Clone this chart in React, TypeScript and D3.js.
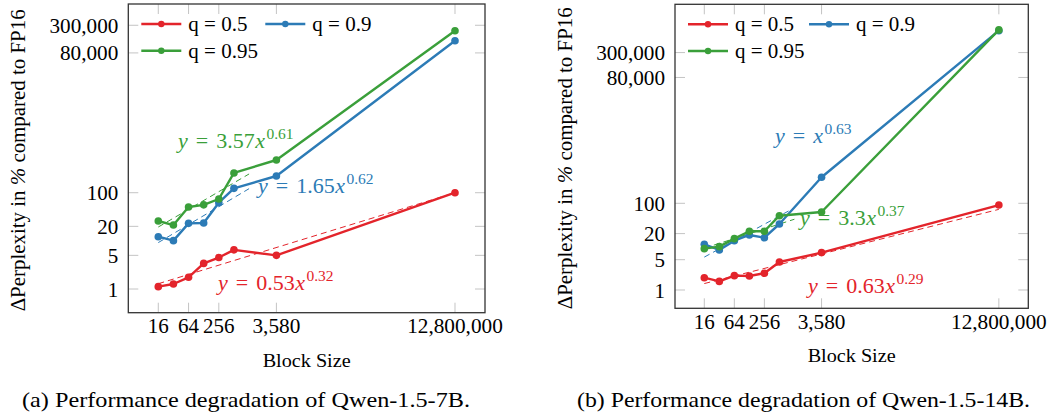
import React from "react";
import * as d3 from "d3";

// ---------- data ----------
const blockSizes = [16, 32, 64, 128, 256, 512, 3580, 12800000];
const xTickValues = [16, 64, 256, 3580, 12800000];
const xTickLabels = ["16", "64", "256", "3,580", "12,800,000"];
const yTickValues = [1, 5, 20, 100, 80000, 300000];
const yTickLabels = ["1", "5", "20", "100", "80,000", "300,000"];
const seriesNames = ["q = 0.5", "q = 0.9", "q = 0.95"];

// Qwen-1.5-7B
const q05A = [1.12, 1.27, 1.75, 3.4, 4.5, 6.5, 5.0, 100];
const q09A = [12.2, 10.1, 23.1, 23.5, 62, 123, 222, 143500];
const q095A = [25.8, 21.3, 50.5, 56, 74, 257, 478, 231000];
// fits: coefficient, exponent, x-range end, label anchor (x, y in data units)
const fitCoefA = [0.53, 1.65, 3.57];
const fitExpA = [0.32, 0.62, 0.61];
const fitEndA = [12800000, 1024, 1024];
const fitLabelXA = [247, 1542, 39.5];
const fitLabelYA = [0.95, 98.6, 848];

// Qwen-1.5-14B
const q05B = [1.92, 1.58, 2.14, 2.1, 2.43, 4.43, 7.26, 91];
const q09B = [11.3, 8.4, 13.7, 18.6, 16.1, 33.3, 398, 960000];
const q095B = [9.0, 10, 15.3, 22.6, 22.6, 51.8, 63, 1000000];
const fitCoefB = [0.63, 1, 3.3];
const fitExpB = [0.29, 0.63, 0.37];
const fitEndB = [12800000, 1024, 1024];
const fitLabelXB = [1915, 418, 1325];
const fitLabelYB = [0.853, 2460, 31.6];

const COLORS = ["#e3242b", "#2c7bb6", "#3a9f3a"];
const SERIF = "Liberation Serif, DejaVu Serif, serif";

// width of a numeric tick label in the reference's digit metrics
const numWidth = (s: string) =>
  s.split("").reduce((w, c) => w + (c === "," ? 5.8 : 10.5), 0);

type PanelProps = {
  left: number; right: number; top: number; bottom: number;
  xDomain: [number, number]; yDomain: [number, number];
  series: number[][];
  fitCoef: number[]; fitExp: number[]; fitEnd: number[];
  fitLabelX: number[]; fitLabelY: number[];
  legendCol2: number;
  yTitleX: number;
  caption: string;
  captionX: number;
  captionLen: number;
};

function FitLabel({ x, y, coef, exp, color }: any) {
  const showCoef = coef !== 1;
  return (
    <text x={x} y={y} style={{ fontFamily: SERIF }} fontSize={22} fill={color}>
      <tspan fontStyle="italic">y</tspan>
      <tspan dx={8}>=</tspan>
      {showCoef ? <tspan dx={8}>{String(coef)}</tspan> : null}
      <tspan dx={showCoef ? 0.5 : 8} fontStyle="italic">x</tspan>
      <tspan dx={1.5} dy={-9} fontSize={15.5}>{String(exp)}</tspan>
    </text>
  );
}

function Panel(p: PanelProps) {
  const x = d3.scaleLog().domain(p.xDomain).range([p.left, p.right]);
  const y = d3.scaleLog().domain(p.yDomain).range([p.bottom, p.top]);
  const line = d3
    .line<[number, number]>()
    .x((d) => x(d[0]))
    .y((d) => y(d[1]));
  const tickLen = 10;
  const tickColor = "#c4c4c4";
  const cx = (p.left + p.right) / 2;
  const cy = (p.top + p.bottom) / 2;
  const legendRows = [
    { i: 0, lx: p.left + 13, ty: p.top + 20 },
    { i: 1, lx: p.left + p.legendCol2, ty: p.top + 20 },
    { i: 2, lx: p.left + 13, ty: p.top + 46.7 },
  ];
  const tf = { fontFamily: SERIF };
  return (
    <g>
      {/* ticks */}
      {xTickValues.map((v, i) => (
        <g key={"xt" + i}>
          <line x1={x(v)} x2={x(v)} y1={p.bottom} y2={p.bottom - tickLen} stroke={tickColor} strokeWidth={1} />
          <line x1={x(v)} x2={x(v)} y1={p.top} y2={p.top + tickLen} stroke={tickColor} strokeWidth={1} />
          <text
            x={x(v)}
            y={p.bottom + 20.5}
            textAnchor="middle"
            style={tf}
            fontSize={21.5}
            textLength={numWidth(xTickLabels[i])}
            lengthAdjust="spacingAndGlyphs"
            fill="#000"
          >
            {xTickLabels[i]}
          </text>
        </g>
      ))}
      {yTickValues.map((v, i) => (
        <g key={"yt" + i}>
          <line x1={p.left} x2={p.left + tickLen} y1={y(v)} y2={y(v)} stroke={tickColor} strokeWidth={1} />
          <line x1={p.right} x2={p.right - tickLen} y1={y(v)} y2={y(v)} stroke={tickColor} strokeWidth={1} />
          <text
            x={p.left - 10}
            y={y(v)}
            dy="0.35em"
            textAnchor="end"
            style={tf}
            fontSize={21.5}
            textLength={numWidth(yTickLabels[i])}
            lengthAdjust="spacingAndGlyphs"
            fill="#000"
          >
            {yTickLabels[i]}
          </text>
        </g>
      ))}
      {/* fits */}
      {p.fitCoef.map((a, i) => {
        const pts: [number, number][] = [
          [blockSizes[0], a * Math.pow(blockSizes[0], p.fitExp[i])],
          [p.fitEnd[i], a * Math.pow(p.fitEnd[i], p.fitExp[i])],
        ];
        return (
          <path key={"fit" + i} d={line(pts) || ""} fill="none" stroke={COLORS[i]} strokeWidth={1} strokeDasharray="6,4" />
        );
      })}
      {/* series */}
      {p.series.map((vals, i) => {
        const pts: [number, number][] = blockSizes.map((b, j) => [b, vals[j]]);
        return (
          <g key={"s" + i}>
            <path d={line(pts) || ""} fill="none" stroke={COLORS[i]} strokeWidth={2.4} strokeLinejoin="round" />
            {pts.map((d, j) => (
              <circle key={j} cx={x(d[0])} cy={y(d[1])} r={3.8} fill={COLORS[i]} />
            ))}
          </g>
        );
      })}
      {/* fit labels */}
      {p.fitCoef.map((a, i) => (
        <FitLabel key={"fl" + i} x={x(p.fitLabelX[i])} y={y(p.fitLabelY[i])} coef={a} exp={p.fitExp[i]} color={COLORS[i]} />
      ))}
      {/* legend */}
      {legendRows.map((r) => (
        <g key={"lg" + r.i}>
          <line x1={r.lx} x2={r.lx + 40} y1={r.ty} y2={r.ty} stroke={COLORS[r.i]} strokeWidth={2.4} />
          <circle cx={r.lx + 20} cy={r.ty} r={3.2} fill={COLORS[r.i]} />
          <text x={r.lx + 47} y={r.ty + 7} style={tf} fontSize={21} fill="#000">
            {seriesNames[r.i]}
          </text>
        </g>
      ))}
      {/* frame */}
      <rect x={p.left} y={p.top} width={p.right - p.left} height={p.bottom - p.top} fill="none" stroke="#333" strokeWidth={1.3} />
      {/* titles */}
      <text
        transform={`translate(${p.yTitleX},${cy + 2}) rotate(-90)`}
        textAnchor="middle"
        dy="0.35em"
        style={tf}
        fontSize={20}
        textLength={302}
        lengthAdjust="spacingAndGlyphs"
        fill="#000"
      >
        ΔPerplexity in <tspan fontStyle="italic">%</tspan> compared to FP16
      </text>
      <text x={cx} y={p.bottom + 54} textAnchor="middle" style={tf} fontSize={19.5} textLength={88} lengthAdjust="spacingAndGlyphs" fill="#000">
        Block Size
      </text>
      <text
        x={p.captionX}
        y={407}
        textAnchor="middle"
        style={tf}
        fontSize={21}
        textLength={p.captionLen}
        lengthAdjust="spacingAndGlyphs"
        fill="#000"
      >
        {p.caption}
      </text>
    </g>
  );
}

export default function App() {
  return (
    <svg width={1047} height={417} style={{ position: "absolute", left: 0, top: 0, background: "#fff" }}>
      <rect x={0} y={0} width={1047} height={417} fill="#fff" />
      <Panel
        left={128.3}
        right={485}
        top={4}
        bottom={312.7}
        xDomain={[4.05, 5.06e7]}
        yDomain={[0.322, 8.3e5]}
        series={[q05A, q09A, q095A]}
        fitCoef={fitCoefA}
        fitExp={fitExpA}
        fitEnd={fitEndA}
        fitLabelX={fitLabelXA}
        fitLabelY={fitLabelYA}
        legendCol2={137}
        yTitleX={18}
        caption="(a) Performance degradation of Qwen-1.5-7B."
        captionX={246}
        captionLen={448}
      />
      <Panel
        left={675}
        right={1028.3}
        top={4.3}
        bottom={308.3}
        xDomain={[4.14, 4.98e7]}
        yDomain={[0.378, 3.9e6]}
        series={[q05B, q09B, q095B]}
        fitCoef={fitCoefB}
        fitExp={fitExpB}
        fitEnd={fitEndB}
        fitLabelX={fitLabelXB}
        fitLabelY={fitLabelYB}
        legendCol2={134}
        yTitleX={565}
        caption="(b) Performance degradation of Qwen-1.5-14B."
        captionX={803.5}
        captionLen={453}
      />
    </svg>
  );
}
